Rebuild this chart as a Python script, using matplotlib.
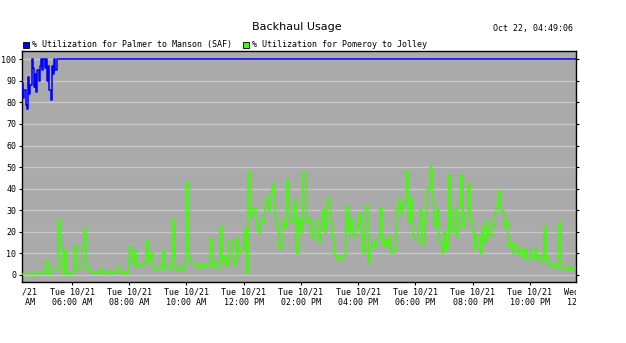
import matplotlib
matplotlib.use("Agg")
import matplotlib.pyplot as plt
import matplotlib.dates as mdates
from matplotlib.patches import Rectangle
from matplotlib.transforms import Bbox, TransformedBbox
import numpy as np

# green: 5 minute samples starting Tue 10/21 04:15
pomeroy_start = np.datetime64("2014-10-21T04:15")
pomeroy = [
    0.5, 0.5, 0.4, 0.5, 0.6, 0.5, 0.5, 0.5, 1.5, 1.0,
    7, 0.5, 0.4, 2.5, 3, 25.5, 13, 0.5, 11, 0.5,
    0.6, 0.5, 13.5, 3, 3, 14, 21.4, 3, 2.5, 0.8,
    0.7, 0.6, 0.8, 3, 0.6, 0.5, 1.5, 1.2, 0.6, 0.8,
    3.5, 0.7, 1.3, 0.5, 0.8, 12.7, 5, 11, 4, 5,
    4, 6, 15.5, 7, 10, 3, 2.5, 4, 3, 10.8,
    4, 2, 6, 25.6, 2, 1.5, 4, 2, 5, 42.6,
    8, 5.5, 4, 3.5, 4.5, 3, 5, 3.5, 4, 16.7,
    4, 6, 3, 22.3, 6, 8, 4, 15.5, 8, 5,
    17, 10, 12, 21, 0.6, 47, 27, 31, 22.5, 20,
    25, 24, 35, 30, 38, 41.8, 28, 22, 12, 25,
    22, 44, 30, 24, 34, 10, 26, 20, 47, 24,
    26, 20, 17, 25, 15, 22, 30, 20, 35, 25,
    18, 9, 7, 8, 7.5, 9, 32, 20, 26, 18,
    22, 28, 20, 10, 32, 5.6, 12, 15, 13, 17,
    31, 14, 16, 13, 18, 10, 12, 30, 35, 28,
    33, 48, 25, 35, 18, 16, 22, 30, 14, 25,
    40, 50, 35, 22, 30, 15, 10, 20, 12, 46.5,
    20, 30, 18, 32, 46.5, 22, 28, 42, 25, 20,
    12, 18, 10, 22, 15, 25, 18, 22, 28, 33,
    39, 30, 22, 25, 13, 15, 10, 14, 9, 11,
    8, 12, 7, 10, 8, 12, 7, 9, 6, 22,
    8, 4, 5, 3, 4, 24, 3, 2.5, 4, 2,
    3, 2.5, 3,
]

# blue: 2.5 minute samples for the noisy start, then pinned at 100
palmer = [
    89, 82, 86, 79, 77, 92, 84, 88, 100, 96,
    87, 93, 85, 95, 90, 97, 100, 95, 100, 96,
    100, 90, 97, 86, 81, 97, 93, 100, 95, 100,
    100,
]
palmer_end = np.datetime64("2014-10-21T23:37")

date_text = "Oct 22, 04:49:06"
title = "Backhaul Usage"
label_palmer = "% Utilization for Palmer to Manson (SAF)"
label_pomeroy = "% Utilization for Pomeroy to Jolley"
# hour ticks that sit just outside the plotted window, only half visible
edge_ticks = [np.datetime64("2014-10-21T04:00"), np.datetime64("2014-10-22T00:00")]

BLUE = "#0000ff"
GREEN = "#3cff00"
mono = "DejaVu Sans Mono"
fmt = "%a %m/%d\n%I:%M %p"

t_green = pomeroy_start + np.arange(len(pomeroy)) * np.timedelta64(5, "m")
t_blue = pomeroy_start + (np.arange(len(palmer)) * 150).astype("timedelta64[s]")
t_blue = np.append(t_blue, palmer_end)
v_blue = palmer + [palmer[-1]]

fig = plt.figure(figsize=(6.26, 3.43), dpi=100)
ax = fig.add_axes([22 / 626, 1 - 282 / 343, 554 / 626, 231 / 343])
ax.set_facecolor("#aaaaaa")

ax.plot(t_green.astype("datetime64[s]").astype(object), pomeroy,
        color=GREEN, lw=1.1, drawstyle="steps-post", zorder=3)
ax.plot(t_blue.astype(object), v_blue,
        color=BLUE, lw=1.1, drawstyle="steps-post", zorder=4)

ax.set_xlim(pomeroy_start.astype(object), palmer_end.astype(object))
ax.set_ylim(-3.4, 103.9)

ax.set_yticks(range(0, 101, 10))
ax.yaxis.grid(True, color="#c8c8c8", lw=1)
ax.set_axisbelow(True)
ax.tick_params(axis="y", labelsize=6, length=2, width=0.8, pad=2,
               right=True, labelright=False)
for lab in ax.get_yticklabels():
    lab.set_family(mono)

ax.xaxis.set_major_locator(mdates.HourLocator(byhour=range(0, 24, 2)))
ax.xaxis.set_major_formatter(mdates.DateFormatter(fmt))
ax.tick_params(axis="x", labelsize=6, length=2.5, width=0.8, pad=1.5)
for lab in ax.get_xticklabels():
    lab.set_family(mono)
    lab.set_linespacing(1.15)

# labels running past the plot edges are cut off, like the original
clip = TransformedBbox(Bbox([[0, -1], [1, 0]]), ax.transAxes)
for t in edge_ticks:
    d = t.astype(object)
    txt = ax.annotate(d.strftime(fmt), xy=(mdates.date2num(d), 0),
                      xycoords=("data", "axes fraction"), xytext=(0, -4),
                      textcoords="offset points", ha="center", va="top",
                      fontsize=6, family=mono, linespacing=1.15,
                      annotation_clip=False)
    txt.set_clip_on(True)
    txt.set_clip_box(clip)

for s in ax.spines.values():
    s.set_color("black")
    s.set_linewidth(1)

fig.text(297 / 626, 1 - 27 / 343, title, ha="center", va="center",
         fontsize=8, family="DejaVu Sans")
fig.text(573 / 626, 1 - 29 / 343, date_text, ha="right", va="center",
         fontsize=6, family=mono)

# legend row
for x0, col, txt in [(23, BLUE, label_palmer), (243, GREEN, label_pomeroy)]:
    fig.patches.append(Rectangle((x0 / 626, 1 - 48 / 343), 6 / 626, 6 / 343,
                                 transform=fig.transFigure, facecolor=col,
                                 edgecolor="black", lw=0.6))
    fig.text((x0 + 9) / 626, 1 - 44.5 / 343, txt, ha="left", va="center",
             fontsize=6, family=mono)

fig.savefig("out.png", dpi=100)
